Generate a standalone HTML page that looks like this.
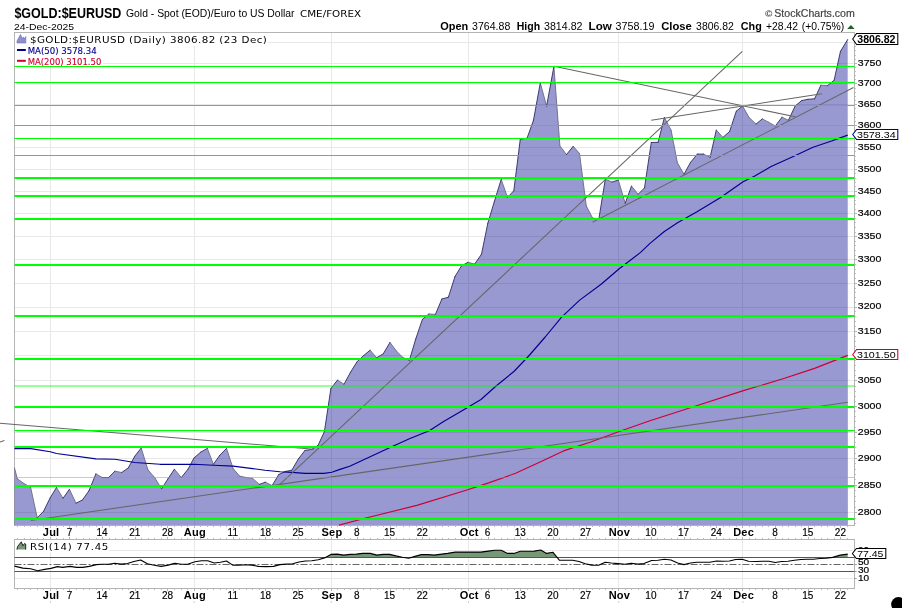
<!DOCTYPE html>
<html lang="en"><head><meta charset="utf-8"><title>$GOLD:$EURUSD - StockCharts</title>
<style>
html,body{margin:0;padding:0;background:#fff;}
body{width:902px;height:608px;overflow:hidden;}
svg{display:block;font-family:"Liberation Sans",Arial,sans-serif;}
.ax{font-size:10px;fill:#000;stroke:#000;stroke-width:0.15px;}
.yl{font-size:9.7px;fill:#000;stroke:#000;stroke-width:0.18px;}
.mo{font-size:11px;font-weight:bold;fill:#000;letter-spacing:0.25px;}
.dv{font-family:"DejaVu Sans","Liberation Sans",sans-serif;}
.dvc{font-family:"DejaVu Sans Condensed","DejaVu Sans","Liberation Sans",sans-serif;}
</style></head><body>
<svg width="902" height="608" viewBox="0 0 902 608">
<rect x="0" y="0" width="902" height="608" fill="#fff"/>
<text x="14.4" y="17.7" textLength="107" lengthAdjust="spacingAndGlyphs" font-size="14.3px" font-weight="bold">$GOLD:$EURUSD</text>
<text x="126" y="16.9" textLength="168.5" lengthAdjust="spacingAndGlyphs" font-size="10.6px">Gold - Spot (EOD)/Euro to US Dollar</text>
<text x="300" y="16.9" textLength="61" lengthAdjust="spacingAndGlyphs" class="dv" font-size="8.6px">CME/FOREX</text>
<text x="14" y="29.8" textLength="60" lengthAdjust="spacingAndGlyphs" font-size="9.6px">24-Dec-2025</text>
<text x="440.2" y="29.8" textLength="28.0" lengthAdjust="spacingAndGlyphs" font-size="11px" font-weight="bold">Open</text>
<text x="472.1" y="29.8" textLength="38.2" lengthAdjust="spacingAndGlyphs" font-size="10.5px">3764.88</text>
<text x="516.7" y="29.8" textLength="23.4" lengthAdjust="spacingAndGlyphs" font-size="11px" font-weight="bold">High</text>
<text x="544" y="29.8" textLength="38.5" lengthAdjust="spacingAndGlyphs" font-size="10.5px">3814.82</text>
<text x="588.6" y="29.8" textLength="23.2" lengthAdjust="spacingAndGlyphs" font-size="11px" font-weight="bold">Low</text>
<text x="615.6" y="29.8" textLength="38.8" lengthAdjust="spacingAndGlyphs" font-size="10.5px">3758.19</text>
<text x="661.2" y="29.8" textLength="30.7" lengthAdjust="spacingAndGlyphs" font-size="11px" font-weight="bold">Close</text>
<text x="696.1" y="29.8" textLength="37.7" lengthAdjust="spacingAndGlyphs" font-size="10.5px">3806.82</text>
<text x="740.8" y="29.8" textLength="21.0" lengthAdjust="spacingAndGlyphs" font-size="11px" font-weight="bold">Chg</text>
<text x="766" y="29.8" textLength="32.1" lengthAdjust="spacingAndGlyphs" font-size="10.5px">+28.42</text>
<text x="801.7" y="29.8" textLength="42.5" lengthAdjust="spacingAndGlyphs" font-size="10.5px">(+0.75%)</text>
<polygon points="847.2,28.9 854.6,28.9 850.9,25" fill="#1f5f1f"/>
<text x="765" y="16.6" textLength="7.4" lengthAdjust="spacingAndGlyphs" font-size="9px" font-weight="bold" fill="#444">©</text>
<text x="774.3" y="17.2" textLength="80.5" lengthAdjust="spacingAndGlyphs" font-size="10.8px" fill="#444" stroke="#444" stroke-width="0.2">StockCharts.com</text>
<rect x="14.5" y="32.5" width="840.0" height="493.0" fill="#fff" stroke="#b4b4b4" stroke-width="1"/>
<g stroke="#e8e8e8" stroke-width="1">
<line x1="15.0" x2="854.0" y1="512.5" y2="512.5"/>
<line x1="15.0" x2="854.0" y1="485.5" y2="485.5"/>
<line x1="15.0" x2="854.0" y1="458.5" y2="458.5"/>
<line x1="15.0" x2="854.0" y1="432.5" y2="432.5"/>
<line x1="15.0" x2="854.0" y1="406.5" y2="406.5"/>
<line x1="15.0" x2="854.0" y1="380.5" y2="380.5"/>
<line x1="15.0" x2="854.0" y1="355.5" y2="355.5"/>
<line x1="15.0" x2="854.0" y1="331.5" y2="331.5"/>
<line x1="15.0" x2="854.0" y1="307.5" y2="307.5"/>
<line x1="15.0" x2="854.0" y1="283.5" y2="283.5"/>
<line x1="15.0" x2="854.0" y1="259.5" y2="259.5"/>
<line x1="15.0" x2="854.0" y1="236.5" y2="236.5"/>
<line x1="15.0" x2="854.0" y1="213.5" y2="213.5"/>
<line x1="15.0" x2="854.0" y1="191.5" y2="191.5"/>
<line x1="15.0" x2="854.0" y1="169.5" y2="169.5"/>
<line x1="15.0" x2="854.0" y1="147.5" y2="147.5"/>
<line x1="15.0" x2="854.0" y1="125.5" y2="125.5"/>
<line x1="15.0" x2="854.0" y1="104.5" y2="104.5"/>
<line x1="15.0" x2="854.0" y1="83.5" y2="83.5"/>
<line x1="15.0" x2="854.0" y1="63.5" y2="63.5"/>
<line x1="15.0" x2="854.0" y1="42.5" y2="42.5"/>
<line x1="50.5" x2="50.5" y1="33.0" y2="525.0"/>
<line x1="194.5" x2="194.5" y1="33.0" y2="525.0"/>
<line x1="331.5" x2="331.5" y1="33.0" y2="525.0"/>
<line x1="468.5" x2="468.5" y1="33.0" y2="525.0"/>
<line x1="618.5" x2="618.5" y1="33.0" y2="525.0"/>
<line x1="742.5" x2="742.5" y1="33.0" y2="525.0"/>
</g>
<rect x="15" y="33" width="253" height="13" fill="#fff"/><rect x="15" y="46" width="83" height="10" fill="#fff"/><rect x="15" y="56" width="88" height="9.8" fill="#fff"/>
<polygon points="14.5,468.0 17.3,478.8 24.0,483.6 30.6,487.2 37.2,517.7 43.5,511.4 50.2,497.8 56.5,487.5 63.0,498.3 69.4,489.3 76.0,503.2 82.4,500.0 89.1,490.6 95.9,473.9 102.3,477.5 108.6,477.5 114.9,471.2 121.7,472.5 128.3,467.9 134.8,456.2 141.2,448.0 147.9,469.8 154.9,477.9 161.6,488.8 168.0,478.8 174.4,469.2 181.3,477.5 188.0,469.2 194.0,458.0 200.6,452.2 207.3,448.4 213.4,464.3 219.8,455.3 226.5,448.4 233.1,468.5 239.6,476.1 246.0,477.5 252.6,478.4 259.3,484.4 265.3,482.2 272.1,485.6 278.8,474.5 285.3,471.5 291.8,470.2 298.4,458.9 304.9,450.5 311.7,449.4 318.1,445.3 324.4,431.6 330.9,388.5 337.5,380.1 344.0,384.2 350.5,372.3 357.0,361.8 363.6,355.6 370.1,350.2 376.6,357.8 383.3,353.8 390.0,342.4 396.4,351.1 402.8,357.4 409.3,360.5 415.8,338.8 422.4,319.4 428.9,314.0 435.4,314.4 441.9,299.0 448.4,297.2 455.0,276.5 461.5,265.9 468.0,262.3 474.6,264.1 481.5,254.2 487.8,223.4 494.3,201.7 501.2,179.4 507.5,197.4 513.8,190.8 520.3,139.1 527.0,138.3 533.4,120.6 540.3,83.0 546.6,106.1 553.9,66.5 559.9,145.9 566.5,154.6 573.2,146.3 579.5,153.5 586.3,206.0 592.6,218.1 598.9,218.7 605.3,179.2 612.0,182.1 618.3,180.1 625.2,203.3 631.5,186.1 638.2,194.2 644.5,187.9 651.3,142.5 658.1,142.3 664.4,117.5 671.1,130.2 677.4,162.8 684.0,174.3 690.5,162.4 697.3,154.1 703.6,154.1 710.1,157.4 716.3,130.1 722.9,137.4 729.6,131.5 736.3,111.2 742.6,106.1 749.1,117.5 756.0,124.1 762.3,118.9 768.8,122.4 775.3,126.0 782.0,117.2 788.4,120.3 795.2,106.0 801.6,100.6 807.9,99.3 814.6,98.8 820.9,85.2 827.4,85.7 834.1,80.3 840.5,51.3 847.7,39.5 847.9,525 14.5,525" fill="rgba(0,0,143,0.4)"/>
<path d="M14.5,468.0L17.3,478.8M17.3,478.8L24.0,483.6M24.0,483.6L30.6,487.2M30.6,487.2L37.2,517.7M56.5,487.5L63.0,498.3M69.4,489.3L76.0,503.2M95.9,473.9L102.3,477.5M114.9,471.2L121.7,472.5M141.2,448.0L147.9,469.8M147.9,469.8L154.9,477.9M154.9,477.9L161.6,488.8M174.4,469.2L181.3,477.5M207.3,448.4L213.4,464.3M226.5,448.4L233.1,468.5M233.1,468.5L239.6,476.1M239.6,476.1L246.0,477.5M246.0,477.5L252.6,478.4M252.6,478.4L259.3,484.4M265.3,482.2L272.1,485.6M337.5,380.1L344.0,384.2M370.1,350.2L376.6,357.8M390.0,342.4L396.4,351.1M396.4,351.1L402.8,357.4M402.8,357.4L409.3,360.5M428.9,314.0L435.4,314.4M468.0,262.3L474.6,264.1M501.2,179.4L507.5,197.4M540.3,83.0L546.6,106.1M553.9,66.5L559.9,145.9M559.9,145.9L566.5,154.6M573.2,146.3L579.5,153.5M579.5,153.5L586.3,206.0M586.3,206.0L592.6,218.1M592.6,218.1L598.9,218.7M605.3,179.2L612.0,182.1M618.3,180.1L625.2,203.3M631.5,186.1L638.2,194.2M664.4,117.5L671.1,130.2M671.1,130.2L677.4,162.8M677.4,162.8L684.0,174.3M703.6,154.1L710.1,157.4M716.3,130.1L722.9,137.4M742.6,106.1L749.1,117.5M749.1,117.5L756.0,124.1M762.3,118.9L768.8,122.4M768.8,122.4L775.3,126.0M782.0,117.2L788.4,120.3M820.9,85.2L827.4,85.7" fill="none" stroke="#6e6e86" stroke-width="0.95" stroke-linecap="round"/>
<path d="M37.2,517.7L43.5,511.4M43.5,511.4L50.2,497.8M50.2,497.8L56.5,487.5M63.0,498.3L69.4,489.3M76.0,503.2L82.4,500.0M82.4,500.0L89.1,490.6M89.1,490.6L95.9,473.9M102.3,477.5L108.6,477.5M108.6,477.5L114.9,471.2M121.7,472.5L128.3,467.9M128.3,467.9L134.8,456.2M134.8,456.2L141.2,448.0M161.6,488.8L168.0,478.8M168.0,478.8L174.4,469.2M181.3,477.5L188.0,469.2M188.0,469.2L194.0,458.0M194.0,458.0L200.6,452.2M200.6,452.2L207.3,448.4M213.4,464.3L219.8,455.3M219.8,455.3L226.5,448.4M259.3,484.4L265.3,482.2M272.1,485.6L278.8,474.5M278.8,474.5L285.3,471.5M285.3,471.5L291.8,470.2M291.8,470.2L298.4,458.9M298.4,458.9L304.9,450.5M304.9,450.5L311.7,449.4M311.7,449.4L318.1,445.3M318.1,445.3L324.4,431.6M324.4,431.6L330.9,388.5M330.9,388.5L337.5,380.1M344.0,384.2L350.5,372.3M350.5,372.3L357.0,361.8M357.0,361.8L363.6,355.6M363.6,355.6L370.1,350.2M376.6,357.8L383.3,353.8M383.3,353.8L390.0,342.4M409.3,360.5L415.8,338.8M415.8,338.8L422.4,319.4M422.4,319.4L428.9,314.0M435.4,314.4L441.9,299.0M441.9,299.0L448.4,297.2M448.4,297.2L455.0,276.5M455.0,276.5L461.5,265.9M461.5,265.9L468.0,262.3M474.6,264.1L481.5,254.2M481.5,254.2L487.8,223.4M487.8,223.4L494.3,201.7M494.3,201.7L501.2,179.4M507.5,197.4L513.8,190.8M513.8,190.8L520.3,139.1M520.3,139.1L527.0,138.3M527.0,138.3L533.4,120.6M533.4,120.6L540.3,83.0M546.6,106.1L553.9,66.5M566.5,154.6L573.2,146.3M598.9,218.7L605.3,179.2M612.0,182.1L618.3,180.1M625.2,203.3L631.5,186.1M638.2,194.2L644.5,187.9M644.5,187.9L651.3,142.5M651.3,142.5L658.1,142.3M658.1,142.3L664.4,117.5M684.0,174.3L690.5,162.4M690.5,162.4L697.3,154.1M697.3,154.1L703.6,154.1M710.1,157.4L716.3,130.1M722.9,137.4L729.6,131.5M729.6,131.5L736.3,111.2M736.3,111.2L742.6,106.1M756.0,124.1L762.3,118.9M775.3,126.0L782.0,117.2M788.4,120.3L795.2,106.0M795.2,106.0L801.6,100.6M801.6,100.6L807.9,99.3M807.9,99.3L814.6,98.8M814.6,98.8L820.9,85.2M827.4,85.7L834.1,80.3M834.1,80.3L840.5,51.3M840.5,51.3L847.7,39.5" fill="none" stroke="#34346c" stroke-width="0.95" stroke-linecap="round"/>
<polyline points="339.0,525.1 368.9,517.3 416.8,505.4 467.7,489.8 488.6,482.9 515.6,473.3 539.5,462.3 563.5,450.9 590.0,442.2 619.9,431.3 649.9,420.8 688.8,408.2 742.6,390.9 784.6,378.3 814.5,368.4 847.7,355.4" fill="none" stroke="#cc0033" stroke-width="1.15" stroke-linejoin="round"/>
<polyline points="14.5,448.6 30.8,448.6 50.2,451.7 56.5,453.5 95.9,458.9 115.0,459.3 134.8,462.5 160.0,464.3 194.0,464.3 213.3,465.2 233.2,466.1 252.6,468.6 265.0,470.2 279.9,471.7 291.9,472.4 304.9,473.4 323.9,473.4 331.8,472.2 340.0,469.4 349.7,466.3 369.6,456.9 389.5,447.8 409.4,438.8 429.3,430.7 443.2,421.8 462.9,410.3 481.0,399.5 495.8,386.3 513.9,371.5 528.7,356.0 545.2,337.0 561.6,317.2 579.7,300.1 601.1,284.3 619.2,268.8 640.6,252.4 650.0,243.4 664.0,231.8 677.9,222.4 696.6,212.0 719.8,198.0 743.1,181.7 754.8,175.9 771.1,166.6 794.4,156.1 813.0,147.2 831.6,141.0 847.7,135.1" fill="none" stroke="#000090" stroke-width="1.15" stroke-linejoin="round"/>
<g stroke="#666" stroke-width="1.05">
<line x1="0" y1="423.2" x2="313.9" y2="449.3"/>
<line x1="0" y1="442.1" x2="4.4" y2="440.5"/>
<line x1="30.8" y1="520.4" x2="847.7" y2="402.3"/>
<line x1="279.9" y1="484.4" x2="742.3" y2="51.4"/>
<line x1="554.0" y1="66.3" x2="795.2" y2="116.8"/>
<line x1="651.2" y1="120.2" x2="821.8" y2="93.7"/>
<line x1="592.6" y1="222.3" x2="853.5" y2="87.5"/>
</g>
<g stroke="#00ff00">
<line x1="14.5" x2="854.5" y1="66.5" y2="66.5" stroke-width="1"/>
<line x1="14.5" x2="854.5" y1="82.5" y2="82.5" stroke-width="1"/>
<line x1="14.5" x2="854.5" y1="105.5" y2="105.5" stroke-width="1"/>
<line x1="14.5" x2="854.5" y1="125.5" y2="125.5" stroke-width="1"/>
<line x1="14.5" x2="854.5" y1="138.5" y2="138.5" stroke-width="1"/>
<line x1="14.5" x2="854.5" y1="155.5" y2="155.5" stroke-width="1"/>
<line x1="14.5" x2="854.5" y1="178.0" y2="178.0" stroke-width="2"/>
<line x1="14.5" x2="854.5" y1="196.0" y2="196.0" stroke-width="2"/>
<line x1="14.5" x2="854.5" y1="219.0" y2="219.0" stroke-width="2"/>
<line x1="14.5" x2="854.5" y1="265.0" y2="265.0" stroke-width="2"/>
<line x1="14.5" x2="854.5" y1="316.0" y2="316.0" stroke-width="2"/>
<line x1="14.5" x2="854.5" y1="359.0" y2="359.0" stroke-width="2"/>
<line x1="14.5" x2="854.5" y1="386.0" y2="386.0" stroke-width="1.6" stroke-opacity="0.55"/>
<line x1="14.5" x2="854.5" y1="407.0" y2="407.0" stroke-width="2"/>
<line x1="14.5" x2="854.5" y1="430.6" y2="430.6" stroke-width="1.3"/>
<line x1="14.5" x2="854.5" y1="447.0" y2="447.0" stroke-width="2"/>
<line x1="14.5" x2="854.5" y1="477.5" y2="477.5" stroke-width="1.0" stroke-opacity="0.5"/>
<line x1="14.5" x2="854.5" y1="486.0" y2="486.0" stroke-width="2"/>
<line x1="14.5" x2="854.5" y1="519.0" y2="519.0" stroke-width="2.2"/>
</g>
<polygon points="17,43 17,41 20.5,34.5 22.3,38.5 23.5,37 24.5,39 25.8,36.5 25.8,43" fill="#8f8fd0" stroke="#6666b8" stroke-width="0.6"/>
<g transform="translate(29.9,43) scale(1.09,1)">
<text x="0" y="0" textLength="217.4" lengthAdjust="spacing" class="dv" font-size="9.5px">$GOLD:$EURUSD (Daily) 3806.82 (23 Dec)</text>
</g>
<line x1="17" x2="25.8" y1="50" y2="50" stroke="#000090" stroke-width="2"/>
<text x="27.7" y="53.8" textLength="69" lengthAdjust="spacingAndGlyphs" class="dvc" font-size="9.5px" fill="#000090" stroke="#000090" stroke-width="0.12">MA(50) 3578.34</text>
<line x1="17" x2="25.8" y1="60.8" y2="60.8" stroke="#cc0033" stroke-width="2"/>
<text x="27.7" y="64.6" textLength="73.6" lengthAdjust="spacingAndGlyphs" class="dvc" font-size="9.5px" fill="#cc0033" stroke="#cc0033" stroke-width="0.12">MA(200) 3101.50</text>
<g stroke="#b4b4b4" stroke-width="1">
<line x1="854.5" x2="855.8" y1="523.5" y2="523.5"/>
<line x1="854.5" x2="855.8" y1="518.5" y2="518.5"/>
<line x1="854.5" x2="857.0" y1="512.5" y2="512.5"/>
<line x1="854.5" x2="855.8" y1="507.5" y2="507.5"/>
<line x1="854.5" x2="855.8" y1="501.5" y2="501.5"/>
<line x1="854.5" x2="855.8" y1="496.5" y2="496.5"/>
<line x1="854.5" x2="855.8" y1="490.5" y2="490.5"/>
<line x1="854.5" x2="857.0" y1="485.5" y2="485.5"/>
<line x1="854.5" x2="855.8" y1="479.5" y2="479.5"/>
<line x1="854.5" x2="855.8" y1="474.5" y2="474.5"/>
<line x1="854.5" x2="855.8" y1="469.5" y2="469.5"/>
<line x1="854.5" x2="855.8" y1="463.5" y2="463.5"/>
<line x1="854.5" x2="857.0" y1="458.5" y2="458.5"/>
<line x1="854.5" x2="855.8" y1="453.5" y2="453.5"/>
<line x1="854.5" x2="855.8" y1="447.5" y2="447.5"/>
<line x1="854.5" x2="855.8" y1="442.5" y2="442.5"/>
<line x1="854.5" x2="855.8" y1="437.5" y2="437.5"/>
<line x1="854.5" x2="857.0" y1="432.5" y2="432.5"/>
<line x1="854.5" x2="855.8" y1="427.5" y2="427.5"/>
<line x1="854.5" x2="855.8" y1="421.5" y2="421.5"/>
<line x1="854.5" x2="855.8" y1="416.5" y2="416.5"/>
<line x1="854.5" x2="855.8" y1="411.5" y2="411.5"/>
<line x1="854.5" x2="857.0" y1="406.5" y2="406.5"/>
<line x1="854.5" x2="855.8" y1="401.5" y2="401.5"/>
<line x1="854.5" x2="855.8" y1="396.5" y2="396.5"/>
<line x1="854.5" x2="855.8" y1="391.5" y2="391.5"/>
<line x1="854.5" x2="855.8" y1="386.5" y2="386.5"/>
<line x1="854.5" x2="857.0" y1="380.5" y2="380.5"/>
<line x1="854.5" x2="855.8" y1="375.5" y2="375.5"/>
<line x1="854.5" x2="855.8" y1="370.5" y2="370.5"/>
<line x1="854.5" x2="855.8" y1="365.5" y2="365.5"/>
<line x1="854.5" x2="855.8" y1="360.5" y2="360.5"/>
<line x1="854.5" x2="857.0" y1="355.5" y2="355.5"/>
<line x1="854.5" x2="855.8" y1="351.5" y2="351.5"/>
<line x1="854.5" x2="855.8" y1="346.5" y2="346.5"/>
<line x1="854.5" x2="855.8" y1="341.5" y2="341.5"/>
<line x1="854.5" x2="855.8" y1="336.5" y2="336.5"/>
<line x1="854.5" x2="857.0" y1="331.5" y2="331.5"/>
<line x1="854.5" x2="855.8" y1="326.5" y2="326.5"/>
<line x1="854.5" x2="855.8" y1="321.5" y2="321.5"/>
<line x1="854.5" x2="855.8" y1="316.5" y2="316.5"/>
<line x1="854.5" x2="855.8" y1="311.5" y2="311.5"/>
<line x1="854.5" x2="857.0" y1="307.5" y2="307.5"/>
<line x1="854.5" x2="855.8" y1="302.5" y2="302.5"/>
<line x1="854.5" x2="855.8" y1="297.5" y2="297.5"/>
<line x1="854.5" x2="855.8" y1="292.5" y2="292.5"/>
<line x1="854.5" x2="855.8" y1="288.5" y2="288.5"/>
<line x1="854.5" x2="857.0" y1="283.5" y2="283.5"/>
<line x1="854.5" x2="855.8" y1="278.5" y2="278.5"/>
<line x1="854.5" x2="855.8" y1="273.5" y2="273.5"/>
<line x1="854.5" x2="855.8" y1="269.5" y2="269.5"/>
<line x1="854.5" x2="855.8" y1="264.5" y2="264.5"/>
<line x1="854.5" x2="857.0" y1="259.5" y2="259.5"/>
<line x1="854.5" x2="855.8" y1="255.5" y2="255.5"/>
<line x1="854.5" x2="855.8" y1="250.5" y2="250.5"/>
<line x1="854.5" x2="855.8" y1="245.5" y2="245.5"/>
<line x1="854.5" x2="855.8" y1="241.5" y2="241.5"/>
<line x1="854.5" x2="857.0" y1="236.5" y2="236.5"/>
<line x1="854.5" x2="855.8" y1="232.5" y2="232.5"/>
<line x1="854.5" x2="855.8" y1="227.5" y2="227.5"/>
<line x1="854.5" x2="855.8" y1="222.5" y2="222.5"/>
<line x1="854.5" x2="855.8" y1="218.5" y2="218.5"/>
<line x1="854.5" x2="857.0" y1="213.5" y2="213.5"/>
<line x1="854.5" x2="855.8" y1="209.5" y2="209.5"/>
<line x1="854.5" x2="855.8" y1="204.5" y2="204.5"/>
<line x1="854.5" x2="855.8" y1="200.5" y2="200.5"/>
<line x1="854.5" x2="855.8" y1="195.5" y2="195.5"/>
<line x1="854.5" x2="857.0" y1="191.5" y2="191.5"/>
<line x1="854.5" x2="855.8" y1="186.5" y2="186.5"/>
<line x1="854.5" x2="855.8" y1="182.5" y2="182.5"/>
<line x1="854.5" x2="855.8" y1="178.5" y2="178.5"/>
<line x1="854.5" x2="855.8" y1="173.5" y2="173.5"/>
<line x1="854.5" x2="857.0" y1="169.5" y2="169.5"/>
<line x1="854.5" x2="855.8" y1="164.5" y2="164.5"/>
<line x1="854.5" x2="855.8" y1="160.5" y2="160.5"/>
<line x1="854.5" x2="855.8" y1="156.5" y2="156.5"/>
<line x1="854.5" x2="855.8" y1="151.5" y2="151.5"/>
<line x1="854.5" x2="857.0" y1="147.5" y2="147.5"/>
<line x1="854.5" x2="855.8" y1="143.5" y2="143.5"/>
<line x1="854.5" x2="855.8" y1="138.5" y2="138.5"/>
<line x1="854.5" x2="855.8" y1="134.5" y2="134.5"/>
<line x1="854.5" x2="855.8" y1="130.5" y2="130.5"/>
<line x1="854.5" x2="857.0" y1="125.5" y2="125.5"/>
<line x1="854.5" x2="855.8" y1="121.5" y2="121.5"/>
<line x1="854.5" x2="855.8" y1="117.5" y2="117.5"/>
<line x1="854.5" x2="855.8" y1="113.5" y2="113.5"/>
<line x1="854.5" x2="855.8" y1="108.5" y2="108.5"/>
<line x1="854.5" x2="857.0" y1="104.5" y2="104.5"/>
<line x1="854.5" x2="855.8" y1="100.5" y2="100.5"/>
<line x1="854.5" x2="855.8" y1="96.5" y2="96.5"/>
<line x1="854.5" x2="855.8" y1="92.5" y2="92.5"/>
<line x1="854.5" x2="855.8" y1="88.5" y2="88.5"/>
<line x1="854.5" x2="857.0" y1="83.5" y2="83.5"/>
<line x1="854.5" x2="855.8" y1="79.5" y2="79.5"/>
<line x1="854.5" x2="855.8" y1="75.5" y2="75.5"/>
<line x1="854.5" x2="855.8" y1="71.5" y2="71.5"/>
<line x1="854.5" x2="855.8" y1="67.5" y2="67.5"/>
<line x1="854.5" x2="857.0" y1="63.5" y2="63.5"/>
<line x1="854.5" x2="855.8" y1="59.5" y2="59.5"/>
<line x1="854.5" x2="855.8" y1="55.5" y2="55.5"/>
<line x1="854.5" x2="855.8" y1="50.5" y2="50.5"/>
<line x1="854.5" x2="855.8" y1="46.5" y2="46.5"/>
<line x1="854.5" x2="857.0" y1="42.5" y2="42.5"/>
<line x1="854.5" x2="855.8" y1="38.5" y2="38.5"/>
<line x1="854.5" x2="855.8" y1="34.5" y2="34.5"/>
</g>
<text x="857.8" y="514.8" textLength="23.5" lengthAdjust="spacingAndGlyphs" class="yl" >2800</text>
<text x="857.8" y="487.6" textLength="23.5" lengthAdjust="spacingAndGlyphs" class="yl" >2850</text>
<text x="857.8" y="460.8" textLength="23.5" lengthAdjust="spacingAndGlyphs" class="yl" >2900</text>
<text x="857.8" y="434.5" textLength="23.5" lengthAdjust="spacingAndGlyphs" class="yl" >2950</text>
<text x="857.8" y="408.7" textLength="23.5" lengthAdjust="spacingAndGlyphs" class="yl" >3000</text>
<text x="857.8" y="383.3" textLength="23.5" lengthAdjust="spacingAndGlyphs" class="yl" >3050</text>
<text x="857.8" y="333.6" textLength="23.5" lengthAdjust="spacingAndGlyphs" class="yl" >3150</text>
<text x="857.8" y="309.4" textLength="23.5" lengthAdjust="spacingAndGlyphs" class="yl" >3200</text>
<text x="857.8" y="285.6" textLength="23.5" lengthAdjust="spacingAndGlyphs" class="yl" >3250</text>
<text x="857.8" y="262.1" textLength="23.5" lengthAdjust="spacingAndGlyphs" class="yl" >3300</text>
<text x="857.8" y="239.0" textLength="23.5" lengthAdjust="spacingAndGlyphs" class="yl" >3350</text>
<text x="857.8" y="216.2" textLength="23.5" lengthAdjust="spacingAndGlyphs" class="yl" >3400</text>
<text x="857.8" y="193.7" textLength="23.5" lengthAdjust="spacingAndGlyphs" class="yl" >3450</text>
<text x="857.8" y="171.6" textLength="23.5" lengthAdjust="spacingAndGlyphs" class="yl" >3500</text>
<text x="857.8" y="149.8" textLength="23.5" lengthAdjust="spacingAndGlyphs" class="yl" >3550</text>
<text x="857.8" y="128.3" textLength="23.5" lengthAdjust="spacingAndGlyphs" class="yl" >3600</text>
<text x="857.8" y="107.1" textLength="23.5" lengthAdjust="spacingAndGlyphs" class="yl" >3650</text>
<text x="857.8" y="86.1" textLength="23.5" lengthAdjust="spacingAndGlyphs" class="yl" >3700</text>
<text x="857.8" y="65.5" textLength="23.5" lengthAdjust="spacingAndGlyphs" class="yl" >3750</text>
<polygon points="852.7,39.0 856.6,33.5 897.8,33.5 897.8,44.5 856.6,44.5" fill="#fff" stroke="#000" stroke-width="1.05"/>
<text x="857.3" y="42.6" textLength="38.2" lengthAdjust="spacingAndGlyphs" font-size="10px" font-weight="bold">3806.82</text>
<polygon points="852.7,134.5 856.6,129.5 897.8,129.5 897.8,139.5 856.6,139.5" fill="#fff" stroke="#000090" stroke-width="1.05"/>
<text x="857" y="138.0" textLength="38.6" lengthAdjust="spacingAndGlyphs" font-size="9.8px">3578.34</text>
<polygon points="852.7,354.5 856.6,349.5 897.8,349.5 897.8,359.5 856.6,359.5" fill="#fff" stroke="#cc0033" stroke-width="1.05"/>
<text x="857" y="358.0" textLength="38.6" lengthAdjust="spacingAndGlyphs" font-size="9.8px">3101.50</text>
<g stroke="#b4b4b4" stroke-width="1">
<line x1="17.5" x2="17.5" y1="525.5" y2="526.9"/>
<line x1="17.5" x2="17.5" y1="538.1" y2="539.5"/>
<line x1="24.5" x2="24.5" y1="525.5" y2="526.9"/>
<line x1="24.5" x2="24.5" y1="538.1" y2="539.5"/>
<line x1="30.5" x2="30.5" y1="525.5" y2="526.9"/>
<line x1="30.5" x2="30.5" y1="538.1" y2="539.5"/>
<line x1="37.5" x2="37.5" y1="525.5" y2="526.9"/>
<line x1="37.5" x2="37.5" y1="538.1" y2="539.5"/>
<line x1="43.5" x2="43.5" y1="525.5" y2="526.9"/>
<line x1="43.5" x2="43.5" y1="538.1" y2="539.5"/>
<line x1="50.5" x2="50.5" y1="525.5" y2="528.1"/>
<line x1="50.5" x2="50.5" y1="536.9" y2="539.5"/>
<line x1="56.5" x2="56.5" y1="525.5" y2="526.9"/>
<line x1="56.5" x2="56.5" y1="538.1" y2="539.5"/>
<line x1="63.5" x2="63.5" y1="525.5" y2="526.9"/>
<line x1="63.5" x2="63.5" y1="538.1" y2="539.5"/>
<line x1="69.5" x2="69.5" y1="525.5" y2="528.1"/>
<line x1="69.5" x2="69.5" y1="536.9" y2="539.5"/>
<line x1="76.5" x2="76.5" y1="525.5" y2="526.9"/>
<line x1="76.5" x2="76.5" y1="538.1" y2="539.5"/>
<line x1="83.5" x2="83.5" y1="525.5" y2="526.9"/>
<line x1="83.5" x2="83.5" y1="538.1" y2="539.5"/>
<line x1="89.5" x2="89.5" y1="525.5" y2="526.9"/>
<line x1="89.5" x2="89.5" y1="538.1" y2="539.5"/>
<line x1="96.5" x2="96.5" y1="525.5" y2="526.9"/>
<line x1="96.5" x2="96.5" y1="538.1" y2="539.5"/>
<line x1="102.5" x2="102.5" y1="525.5" y2="528.1"/>
<line x1="102.5" x2="102.5" y1="536.9" y2="539.5"/>
<line x1="109.5" x2="109.5" y1="525.5" y2="526.9"/>
<line x1="109.5" x2="109.5" y1="538.1" y2="539.5"/>
<line x1="115.5" x2="115.5" y1="525.5" y2="526.9"/>
<line x1="115.5" x2="115.5" y1="538.1" y2="539.5"/>
<line x1="122.5" x2="122.5" y1="525.5" y2="526.9"/>
<line x1="122.5" x2="122.5" y1="538.1" y2="539.5"/>
<line x1="128.5" x2="128.5" y1="525.5" y2="526.9"/>
<line x1="128.5" x2="128.5" y1="538.1" y2="539.5"/>
<line x1="135.5" x2="135.5" y1="525.5" y2="528.1"/>
<line x1="135.5" x2="135.5" y1="536.9" y2="539.5"/>
<line x1="141.5" x2="141.5" y1="525.5" y2="526.9"/>
<line x1="141.5" x2="141.5" y1="538.1" y2="539.5"/>
<line x1="148.5" x2="148.5" y1="525.5" y2="526.9"/>
<line x1="148.5" x2="148.5" y1="538.1" y2="539.5"/>
<line x1="154.5" x2="154.5" y1="525.5" y2="526.9"/>
<line x1="154.5" x2="154.5" y1="538.1" y2="539.5"/>
<line x1="161.5" x2="161.5" y1="525.5" y2="526.9"/>
<line x1="161.5" x2="161.5" y1="538.1" y2="539.5"/>
<line x1="167.5" x2="167.5" y1="525.5" y2="528.1"/>
<line x1="167.5" x2="167.5" y1="536.9" y2="539.5"/>
<line x1="174.5" x2="174.5" y1="525.5" y2="526.9"/>
<line x1="174.5" x2="174.5" y1="538.1" y2="539.5"/>
<line x1="181.5" x2="181.5" y1="525.5" y2="526.9"/>
<line x1="181.5" x2="181.5" y1="538.1" y2="539.5"/>
<line x1="187.5" x2="187.5" y1="525.5" y2="526.9"/>
<line x1="187.5" x2="187.5" y1="538.1" y2="539.5"/>
<line x1="194.5" x2="194.5" y1="525.5" y2="528.1"/>
<line x1="194.5" x2="194.5" y1="536.9" y2="539.5"/>
<line x1="200.5" x2="200.5" y1="525.5" y2="526.9"/>
<line x1="200.5" x2="200.5" y1="538.1" y2="539.5"/>
<line x1="207.5" x2="207.5" y1="525.5" y2="526.9"/>
<line x1="207.5" x2="207.5" y1="538.1" y2="539.5"/>
<line x1="213.5" x2="213.5" y1="525.5" y2="526.9"/>
<line x1="213.5" x2="213.5" y1="538.1" y2="539.5"/>
<line x1="220.5" x2="220.5" y1="525.5" y2="526.9"/>
<line x1="220.5" x2="220.5" y1="538.1" y2="539.5"/>
<line x1="226.5" x2="226.5" y1="525.5" y2="526.9"/>
<line x1="226.5" x2="226.5" y1="538.1" y2="539.5"/>
<line x1="233.5" x2="233.5" y1="525.5" y2="528.1"/>
<line x1="233.5" x2="233.5" y1="536.9" y2="539.5"/>
<line x1="239.5" x2="239.5" y1="525.5" y2="526.9"/>
<line x1="239.5" x2="239.5" y1="538.1" y2="539.5"/>
<line x1="246.5" x2="246.5" y1="525.5" y2="526.9"/>
<line x1="246.5" x2="246.5" y1="538.1" y2="539.5"/>
<line x1="252.5" x2="252.5" y1="525.5" y2="526.9"/>
<line x1="252.5" x2="252.5" y1="538.1" y2="539.5"/>
<line x1="259.5" x2="259.5" y1="525.5" y2="526.9"/>
<line x1="259.5" x2="259.5" y1="538.1" y2="539.5"/>
<line x1="265.5" x2="265.5" y1="525.5" y2="528.1"/>
<line x1="265.5" x2="265.5" y1="536.9" y2="539.5"/>
<line x1="272.5" x2="272.5" y1="525.5" y2="526.9"/>
<line x1="272.5" x2="272.5" y1="538.1" y2="539.5"/>
<line x1="279.5" x2="279.5" y1="525.5" y2="526.9"/>
<line x1="279.5" x2="279.5" y1="538.1" y2="539.5"/>
<line x1="285.5" x2="285.5" y1="525.5" y2="526.9"/>
<line x1="285.5" x2="285.5" y1="538.1" y2="539.5"/>
<line x1="292.5" x2="292.5" y1="525.5" y2="526.9"/>
<line x1="292.5" x2="292.5" y1="538.1" y2="539.5"/>
<line x1="298.5" x2="298.5" y1="525.5" y2="528.1"/>
<line x1="298.5" x2="298.5" y1="536.9" y2="539.5"/>
<line x1="305.5" x2="305.5" y1="525.5" y2="526.9"/>
<line x1="305.5" x2="305.5" y1="538.1" y2="539.5"/>
<line x1="311.5" x2="311.5" y1="525.5" y2="526.9"/>
<line x1="311.5" x2="311.5" y1="538.1" y2="539.5"/>
<line x1="318.5" x2="318.5" y1="525.5" y2="526.9"/>
<line x1="318.5" x2="318.5" y1="538.1" y2="539.5"/>
<line x1="324.5" x2="324.5" y1="525.5" y2="526.9"/>
<line x1="324.5" x2="324.5" y1="538.1" y2="539.5"/>
<line x1="331.5" x2="331.5" y1="525.5" y2="528.1"/>
<line x1="331.5" x2="331.5" y1="536.9" y2="539.5"/>
<line x1="337.5" x2="337.5" y1="525.5" y2="526.9"/>
<line x1="337.5" x2="337.5" y1="538.1" y2="539.5"/>
<line x1="344.5" x2="344.5" y1="525.5" y2="526.9"/>
<line x1="344.5" x2="344.5" y1="538.1" y2="539.5"/>
<line x1="350.5" x2="350.5" y1="525.5" y2="526.9"/>
<line x1="350.5" x2="350.5" y1="538.1" y2="539.5"/>
<line x1="357.5" x2="357.5" y1="525.5" y2="528.1"/>
<line x1="357.5" x2="357.5" y1="536.9" y2="539.5"/>
<line x1="363.5" x2="363.5" y1="525.5" y2="526.9"/>
<line x1="363.5" x2="363.5" y1="538.1" y2="539.5"/>
<line x1="370.5" x2="370.5" y1="525.5" y2="526.9"/>
<line x1="370.5" x2="370.5" y1="538.1" y2="539.5"/>
<line x1="377.5" x2="377.5" y1="525.5" y2="526.9"/>
<line x1="377.5" x2="377.5" y1="538.1" y2="539.5"/>
<line x1="383.5" x2="383.5" y1="525.5" y2="526.9"/>
<line x1="383.5" x2="383.5" y1="538.1" y2="539.5"/>
<line x1="390.5" x2="390.5" y1="525.5" y2="528.1"/>
<line x1="390.5" x2="390.5" y1="536.9" y2="539.5"/>
<line x1="396.5" x2="396.5" y1="525.5" y2="526.9"/>
<line x1="396.5" x2="396.5" y1="538.1" y2="539.5"/>
<line x1="403.5" x2="403.5" y1="525.5" y2="526.9"/>
<line x1="403.5" x2="403.5" y1="538.1" y2="539.5"/>
<line x1="409.5" x2="409.5" y1="525.5" y2="526.9"/>
<line x1="409.5" x2="409.5" y1="538.1" y2="539.5"/>
<line x1="416.5" x2="416.5" y1="525.5" y2="526.9"/>
<line x1="416.5" x2="416.5" y1="538.1" y2="539.5"/>
<line x1="422.5" x2="422.5" y1="525.5" y2="528.1"/>
<line x1="422.5" x2="422.5" y1="536.9" y2="539.5"/>
<line x1="429.5" x2="429.5" y1="525.5" y2="526.9"/>
<line x1="429.5" x2="429.5" y1="538.1" y2="539.5"/>
<line x1="435.5" x2="435.5" y1="525.5" y2="526.9"/>
<line x1="435.5" x2="435.5" y1="538.1" y2="539.5"/>
<line x1="442.5" x2="442.5" y1="525.5" y2="526.9"/>
<line x1="442.5" x2="442.5" y1="538.1" y2="539.5"/>
<line x1="448.5" x2="448.5" y1="525.5" y2="526.9"/>
<line x1="448.5" x2="448.5" y1="538.1" y2="539.5"/>
<line x1="455.5" x2="455.5" y1="525.5" y2="526.9"/>
<line x1="455.5" x2="455.5" y1="538.1" y2="539.5"/>
<line x1="461.5" x2="461.5" y1="525.5" y2="526.9"/>
<line x1="461.5" x2="461.5" y1="538.1" y2="539.5"/>
<line x1="468.5" x2="468.5" y1="525.5" y2="528.1"/>
<line x1="468.5" x2="468.5" y1="536.9" y2="539.5"/>
<line x1="475.5" x2="475.5" y1="525.5" y2="526.9"/>
<line x1="475.5" x2="475.5" y1="538.1" y2="539.5"/>
<line x1="481.5" x2="481.5" y1="525.5" y2="526.9"/>
<line x1="481.5" x2="481.5" y1="538.1" y2="539.5"/>
<line x1="488.5" x2="488.5" y1="525.5" y2="528.1"/>
<line x1="488.5" x2="488.5" y1="536.9" y2="539.5"/>
<line x1="494.5" x2="494.5" y1="525.5" y2="526.9"/>
<line x1="494.5" x2="494.5" y1="538.1" y2="539.5"/>
<line x1="501.5" x2="501.5" y1="525.5" y2="526.9"/>
<line x1="501.5" x2="501.5" y1="538.1" y2="539.5"/>
<line x1="507.5" x2="507.5" y1="525.5" y2="526.9"/>
<line x1="507.5" x2="507.5" y1="538.1" y2="539.5"/>
<line x1="514.5" x2="514.5" y1="525.5" y2="526.9"/>
<line x1="514.5" x2="514.5" y1="538.1" y2="539.5"/>
<line x1="520.5" x2="520.5" y1="525.5" y2="528.1"/>
<line x1="520.5" x2="520.5" y1="536.9" y2="539.5"/>
<line x1="527.5" x2="527.5" y1="525.5" y2="526.9"/>
<line x1="527.5" x2="527.5" y1="538.1" y2="539.5"/>
<line x1="533.5" x2="533.5" y1="525.5" y2="526.9"/>
<line x1="533.5" x2="533.5" y1="538.1" y2="539.5"/>
<line x1="540.5" x2="540.5" y1="525.5" y2="526.9"/>
<line x1="540.5" x2="540.5" y1="538.1" y2="539.5"/>
<line x1="546.5" x2="546.5" y1="525.5" y2="526.9"/>
<line x1="546.5" x2="546.5" y1="538.1" y2="539.5"/>
<line x1="553.5" x2="553.5" y1="525.5" y2="528.1"/>
<line x1="553.5" x2="553.5" y1="536.9" y2="539.5"/>
<line x1="559.5" x2="559.5" y1="525.5" y2="526.9"/>
<line x1="559.5" x2="559.5" y1="538.1" y2="539.5"/>
<line x1="566.5" x2="566.5" y1="525.5" y2="526.9"/>
<line x1="566.5" x2="566.5" y1="538.1" y2="539.5"/>
<line x1="573.5" x2="573.5" y1="525.5" y2="526.9"/>
<line x1="573.5" x2="573.5" y1="538.1" y2="539.5"/>
<line x1="579.5" x2="579.5" y1="525.5" y2="526.9"/>
<line x1="579.5" x2="579.5" y1="538.1" y2="539.5"/>
<line x1="586.5" x2="586.5" y1="525.5" y2="528.1"/>
<line x1="586.5" x2="586.5" y1="536.9" y2="539.5"/>
<line x1="592.5" x2="592.5" y1="525.5" y2="526.9"/>
<line x1="592.5" x2="592.5" y1="538.1" y2="539.5"/>
<line x1="599.5" x2="599.5" y1="525.5" y2="526.9"/>
<line x1="599.5" x2="599.5" y1="538.1" y2="539.5"/>
<line x1="605.5" x2="605.5" y1="525.5" y2="526.9"/>
<line x1="605.5" x2="605.5" y1="538.1" y2="539.5"/>
<line x1="612.5" x2="612.5" y1="525.5" y2="526.9"/>
<line x1="612.5" x2="612.5" y1="538.1" y2="539.5"/>
<line x1="618.5" x2="618.5" y1="525.5" y2="528.1"/>
<line x1="618.5" x2="618.5" y1="536.9" y2="539.5"/>
<line x1="625.5" x2="625.5" y1="525.5" y2="526.9"/>
<line x1="625.5" x2="625.5" y1="538.1" y2="539.5"/>
<line x1="631.5" x2="631.5" y1="525.5" y2="526.9"/>
<line x1="631.5" x2="631.5" y1="538.1" y2="539.5"/>
<line x1="638.5" x2="638.5" y1="525.5" y2="526.9"/>
<line x1="638.5" x2="638.5" y1="538.1" y2="539.5"/>
<line x1="644.5" x2="644.5" y1="525.5" y2="526.9"/>
<line x1="644.5" x2="644.5" y1="538.1" y2="539.5"/>
<line x1="651.5" x2="651.5" y1="525.5" y2="528.1"/>
<line x1="651.5" x2="651.5" y1="536.9" y2="539.5"/>
<line x1="657.5" x2="657.5" y1="525.5" y2="526.9"/>
<line x1="657.5" x2="657.5" y1="538.1" y2="539.5"/>
<line x1="664.5" x2="664.5" y1="525.5" y2="526.9"/>
<line x1="664.5" x2="664.5" y1="538.1" y2="539.5"/>
<line x1="671.5" x2="671.5" y1="525.5" y2="526.9"/>
<line x1="671.5" x2="671.5" y1="538.1" y2="539.5"/>
<line x1="677.5" x2="677.5" y1="525.5" y2="526.9"/>
<line x1="677.5" x2="677.5" y1="538.1" y2="539.5"/>
<line x1="684.5" x2="684.5" y1="525.5" y2="528.1"/>
<line x1="684.5" x2="684.5" y1="536.9" y2="539.5"/>
<line x1="690.5" x2="690.5" y1="525.5" y2="526.9"/>
<line x1="690.5" x2="690.5" y1="538.1" y2="539.5"/>
<line x1="697.5" x2="697.5" y1="525.5" y2="526.9"/>
<line x1="697.5" x2="697.5" y1="538.1" y2="539.5"/>
<line x1="703.5" x2="703.5" y1="525.5" y2="526.9"/>
<line x1="703.5" x2="703.5" y1="538.1" y2="539.5"/>
<line x1="710.5" x2="710.5" y1="525.5" y2="526.9"/>
<line x1="710.5" x2="710.5" y1="538.1" y2="539.5"/>
<line x1="716.5" x2="716.5" y1="525.5" y2="528.1"/>
<line x1="716.5" x2="716.5" y1="536.9" y2="539.5"/>
<line x1="723.5" x2="723.5" y1="525.5" y2="526.9"/>
<line x1="723.5" x2="723.5" y1="538.1" y2="539.5"/>
<line x1="729.5" x2="729.5" y1="525.5" y2="526.9"/>
<line x1="729.5" x2="729.5" y1="538.1" y2="539.5"/>
<line x1="736.5" x2="736.5" y1="525.5" y2="526.9"/>
<line x1="736.5" x2="736.5" y1="538.1" y2="539.5"/>
<line x1="742.5" x2="742.5" y1="525.5" y2="528.1"/>
<line x1="742.5" x2="742.5" y1="536.9" y2="539.5"/>
<line x1="749.5" x2="749.5" y1="525.5" y2="526.9"/>
<line x1="749.5" x2="749.5" y1="538.1" y2="539.5"/>
<line x1="755.5" x2="755.5" y1="525.5" y2="526.9"/>
<line x1="755.5" x2="755.5" y1="538.1" y2="539.5"/>
<line x1="762.5" x2="762.5" y1="525.5" y2="526.9"/>
<line x1="762.5" x2="762.5" y1="538.1" y2="539.5"/>
<line x1="768.5" x2="768.5" y1="525.5" y2="526.9"/>
<line x1="768.5" x2="768.5" y1="538.1" y2="539.5"/>
<line x1="775.5" x2="775.5" y1="525.5" y2="528.1"/>
<line x1="775.5" x2="775.5" y1="536.9" y2="539.5"/>
<line x1="782.5" x2="782.5" y1="525.5" y2="526.9"/>
<line x1="782.5" x2="782.5" y1="538.1" y2="539.5"/>
<line x1="788.5" x2="788.5" y1="525.5" y2="526.9"/>
<line x1="788.5" x2="788.5" y1="538.1" y2="539.5"/>
<line x1="795.5" x2="795.5" y1="525.5" y2="526.9"/>
<line x1="795.5" x2="795.5" y1="538.1" y2="539.5"/>
<line x1="801.5" x2="801.5" y1="525.5" y2="526.9"/>
<line x1="801.5" x2="801.5" y1="538.1" y2="539.5"/>
<line x1="808.5" x2="808.5" y1="525.5" y2="528.1"/>
<line x1="808.5" x2="808.5" y1="536.9" y2="539.5"/>
<line x1="814.5" x2="814.5" y1="525.5" y2="526.9"/>
<line x1="814.5" x2="814.5" y1="538.1" y2="539.5"/>
<line x1="821.5" x2="821.5" y1="525.5" y2="526.9"/>
<line x1="821.5" x2="821.5" y1="538.1" y2="539.5"/>
<line x1="827.5" x2="827.5" y1="525.5" y2="526.9"/>
<line x1="827.5" x2="827.5" y1="538.1" y2="539.5"/>
<line x1="834.5" x2="834.5" y1="525.5" y2="526.9"/>
<line x1="834.5" x2="834.5" y1="538.1" y2="539.5"/>
<line x1="840.5" x2="840.5" y1="525.5" y2="528.1"/>
<line x1="840.5" x2="840.5" y1="536.9" y2="539.5"/>
<line x1="847.5" x2="847.5" y1="525.5" y2="526.9"/>
<line x1="847.5" x2="847.5" y1="538.1" y2="539.5"/>
</g>
<text x="51.1" y="536" text-anchor="middle" class="mo" >Jul</text>
<text x="194.8" y="536" text-anchor="middle" class="mo" >Aug</text>
<text x="332.0" y="536" text-anchor="middle" class="mo" >Sep</text>
<text x="469.2" y="536" text-anchor="middle" class="mo" >Oct</text>
<text x="619.4" y="536" text-anchor="middle" class="mo" >Nov</text>
<text x="743.6" y="536" text-anchor="middle" class="mo" >Dec</text>
<text x="69.5" y="536" text-anchor="middle" class="ax" >7</text>
<text x="102.1" y="536" text-anchor="middle" class="ax" >14</text>
<text x="134.8" y="536" text-anchor="middle" class="ax" >21</text>
<text x="167.5" y="536" text-anchor="middle" class="ax" >28</text>
<text x="232.8" y="536" text-anchor="middle" class="ax" >11</text>
<text x="265.5" y="536" text-anchor="middle" class="ax" >18</text>
<text x="298.1" y="536" text-anchor="middle" class="ax" >25</text>
<text x="356.9" y="536" text-anchor="middle" class="ax" >8</text>
<text x="389.6" y="536" text-anchor="middle" class="ax" >15</text>
<text x="422.2" y="536" text-anchor="middle" class="ax" >22</text>
<text x="487.6" y="536" text-anchor="middle" class="ax" >6</text>
<text x="520.2" y="536" text-anchor="middle" class="ax" >13</text>
<text x="552.9" y="536" text-anchor="middle" class="ax" >20</text>
<text x="585.6" y="536" text-anchor="middle" class="ax" >27</text>
<text x="650.9" y="536" text-anchor="middle" class="ax" >10</text>
<text x="683.6" y="536" text-anchor="middle" class="ax" >17</text>
<text x="716.2" y="536" text-anchor="middle" class="ax" >24</text>
<text x="775.0" y="536" text-anchor="middle" class="ax" >8</text>
<text x="807.7" y="536" text-anchor="middle" class="ax" >15</text>
<text x="840.4" y="536" text-anchor="middle" class="ax" >22</text>
<rect x="14.5" y="539.5" width="840.0" height="49.0" fill="#fff" stroke="#b4b4b4" stroke-width="1"/>
<g stroke="#e8e8e8" stroke-width="1">
<line x1="15.0" x2="854.0" y1="578.5" y2="578.5"/>
<line x1="15.0" x2="854.0" y1="550.5" y2="550.5"/>
<line x1="50.5" x2="50.5" y1="540.0" y2="588.0"/>
<line x1="194.5" x2="194.5" y1="540.0" y2="588.0"/>
<line x1="331.5" x2="331.5" y1="540.0" y2="588.0"/>
<line x1="468.5" x2="468.5" y1="540.0" y2="588.0"/>
<line x1="618.5" x2="618.5" y1="540.0" y2="588.0"/>
<line x1="742.5" x2="742.5" y1="540.0" y2="588.0"/>
</g>
<clipPath id="c70"><rect x="14.5" y="539.5" width="840.0" height="18.0"/></clipPath>
<polygon clip-path="url(#c70)" points="14.5,566.1 22.9,568.1 30.6,568.7 37.7,570.7 44.6,569.4 51.0,568.4 57.4,566.6 62.5,567.4 70.1,566.4 76.5,567.4 82.9,567.4 89.2,566.4 96.4,564.6 102.0,564.3 108.4,564.3 114.7,563.3 121.1,564.1 127.5,563.6 133.9,561.5 140.7,560.0 147.4,563.8 154.3,565.3 161.1,566.4 168.3,565.1 174.7,563.3 181.5,564.3 188.2,564.1 195.0,561.8 201.4,560.8 207.8,560.8 214.2,563.0 220.5,562.3 226.4,561.0 232.7,565.1 239.1,565.3 245.5,564.8 251.9,565.1 258.2,566.4 265.9,566.6 273.5,566.4 279.9,564.6 286.3,564.1 292.7,563.8 299.0,562.0 305.4,561.0 311.8,560.8 318.2,559.7 324.5,557.9 330.9,554.4 337.3,554.1 343.7,555.1 350.0,554.4 356.4,554.1 362.8,553.4 370.4,553.4 376.8,555.1 383.2,554.4 389.6,554.4 395.9,555.9 402.3,557.2 408.7,558.2 415.0,556.4 421.4,554.6 427.8,554.6 434.2,555.1 441.8,554.1 447.6,553.4 455.3,552.1 468.0,552.1 480.8,552.1 488.4,551.1 494.8,550.3 501.2,550.3 507.6,553.4 513.9,553.4 520.3,551.3 528.0,551.3 534.3,551.1 540.7,550.0 546.6,553.4 553.0,552.3 559.3,560.2 566.2,560.2 572.6,560.2 579.0,561.5 585.3,563.8 591.7,565.1 598.6,565.3 605.2,562.3 611.3,563.0 618.0,563.6 624.9,564.3 631.2,563.3 637.6,564.1 644.0,563.6 651.6,560.5 658.0,560.2 664.4,559.2 671.0,560.0 677.6,563.0 684.0,564.6 690.4,563.0 696.7,562.3 703.1,562.3 709.7,562.3 716.6,561.0 723.0,561.3 729.4,561.0 735.7,559.5 742.1,559.2 748.5,561.3 756.1,561.5 762.5,561.3 768.9,561.3 775.3,562.5 781.6,561.5 788.0,561.3 794.4,560.2 800.8,559.5 807.1,559.2 813.5,559.2 819.9,558.5 826.3,558.2 832.6,557.4 840.3,555.1 847.7,554.1 847.7,557.5 14.5,557.5" fill="#769876"/>
<line x1="14.5" x2="854.5" y1="557.5" y2="557.5" stroke="#555" stroke-width="1"/>
<line x1="14.5" x2="854.5" y1="571.5" y2="571.5" stroke="#555" stroke-width="1"/>
<line x1="14.5" x2="854.5" y1="564.5" y2="564.5" stroke="#666" stroke-width="1" stroke-dasharray="7,2,2,2"/>
<polyline points="14.5,566.1 22.9,568.1 30.6,568.7 37.7,570.7 44.6,569.4 51.0,568.4 57.4,566.6 62.5,567.4 70.1,566.4 76.5,567.4 82.9,567.4 89.2,566.4 96.4,564.6 102.0,564.3 108.4,564.3 114.7,563.3 121.1,564.1 127.5,563.6 133.9,561.5 140.7,560.0 147.4,563.8 154.3,565.3 161.1,566.4 168.3,565.1 174.7,563.3 181.5,564.3 188.2,564.1 195.0,561.8 201.4,560.8 207.8,560.8 214.2,563.0 220.5,562.3 226.4,561.0 232.7,565.1 239.1,565.3 245.5,564.8 251.9,565.1 258.2,566.4 265.9,566.6 273.5,566.4 279.9,564.6 286.3,564.1 292.7,563.8 299.0,562.0 305.4,561.0 311.8,560.8 318.2,559.7 324.5,557.9 330.9,554.4 337.3,554.1 343.7,555.1 350.0,554.4 356.4,554.1 362.8,553.4 370.4,553.4 376.8,555.1 383.2,554.4 389.6,554.4 395.9,555.9 402.3,557.2 408.7,558.2 415.0,556.4 421.4,554.6 427.8,554.6 434.2,555.1 441.8,554.1 447.6,553.4 455.3,552.1 468.0,552.1 480.8,552.1 488.4,551.1 494.8,550.3 501.2,550.3 507.6,553.4 513.9,553.4 520.3,551.3 528.0,551.3 534.3,551.1 540.7,550.0 546.6,553.4 553.0,552.3 559.3,560.2 566.2,560.2 572.6,560.2 579.0,561.5 585.3,563.8 591.7,565.1 598.6,565.3 605.2,562.3 611.3,563.0 618.0,563.6 624.9,564.3 631.2,563.3 637.6,564.1 644.0,563.6 651.6,560.5 658.0,560.2 664.4,559.2 671.0,560.0 677.6,563.0 684.0,564.6 690.4,563.0 696.7,562.3 703.1,562.3 709.7,562.3 716.6,561.0 723.0,561.3 729.4,561.0 735.7,559.5 742.1,559.2 748.5,561.3 756.1,561.5 762.5,561.3 768.9,561.3 775.3,562.5 781.6,561.5 788.0,561.3 794.4,560.2 800.8,559.5 807.1,559.2 813.5,559.2 819.9,558.5 826.3,558.2 832.6,557.4 840.3,555.1 847.7,554.1" fill="none" stroke="#000" stroke-width="1.1" stroke-linejoin="round"/>
<rect x="15" y="540" width="94" height="12" fill="#fff"/>
<polygon points="16.9,549.6 17.6,546.5 21.3,541.8 22.9,545.8 24.6,543.4 25.7,544.2 25.7,549.6" fill="#769876"/><polyline points="16.9,549.6 17.6,546.5 21.3,541.8 22.9,545.8 24.6,543.4 25.7,544.2 25.7,549.6" fill="none" stroke="#111" stroke-width="0.9"/>
<g transform="translate(30,550.2) scale(1.09,1)">
<text x="0" y="0" textLength="71.9" lengthAdjust="spacing" class="dv" font-size="9.4px">RSI(14) 77.45</text>
</g>
<text x="858" y="552.6" textLength="11.2" lengthAdjust="spacingAndGlyphs" class="yl" >90</text>
<text x="858" y="565.2" textLength="11.2" lengthAdjust="spacingAndGlyphs" class="yl" >50</text>
<text x="858" y="572.6" textLength="11.2" lengthAdjust="spacingAndGlyphs" class="yl" >30</text>
<text x="858" y="580.5" textLength="11.2" lengthAdjust="spacingAndGlyphs" class="yl" >10</text>
<line x1="854.5" x2="856.7" y1="550.5" y2="550.5" stroke="#999" stroke-width="1"/>
<line x1="854.5" x2="856.7" y1="564.5" y2="564.5" stroke="#999" stroke-width="1"/>
<line x1="854.5" x2="856.7" y1="571.5" y2="571.5" stroke="#999" stroke-width="1"/>
<line x1="854.5" x2="856.7" y1="578.5" y2="578.5" stroke="#999" stroke-width="1"/>
<polygon points="852.4,553.5 856.4,548.5 885.8,548.5 885.8,558.5 856.4,558.5" fill="#fff" stroke="#000" stroke-width="1.05"/>
<text x="857.2" y="557.1" textLength="26.2" lengthAdjust="spacingAndGlyphs" font-size="9.8px">77.45</text>
<g stroke="#b4b4b4" stroke-width="1">
<line x1="17.5" x2="17.5" y1="588.5" y2="589.9"/>
<line x1="24.5" x2="24.5" y1="588.5" y2="589.9"/>
<line x1="30.5" x2="30.5" y1="588.5" y2="589.9"/>
<line x1="37.5" x2="37.5" y1="588.5" y2="589.9"/>
<line x1="43.5" x2="43.5" y1="588.5" y2="589.9"/>
<line x1="50.5" x2="50.5" y1="588.5" y2="591.1"/>
<line x1="56.5" x2="56.5" y1="588.5" y2="589.9"/>
<line x1="63.5" x2="63.5" y1="588.5" y2="589.9"/>
<line x1="69.5" x2="69.5" y1="588.5" y2="591.1"/>
<line x1="76.5" x2="76.5" y1="588.5" y2="589.9"/>
<line x1="83.5" x2="83.5" y1="588.5" y2="589.9"/>
<line x1="89.5" x2="89.5" y1="588.5" y2="589.9"/>
<line x1="96.5" x2="96.5" y1="588.5" y2="589.9"/>
<line x1="102.5" x2="102.5" y1="588.5" y2="591.1"/>
<line x1="109.5" x2="109.5" y1="588.5" y2="589.9"/>
<line x1="115.5" x2="115.5" y1="588.5" y2="589.9"/>
<line x1="122.5" x2="122.5" y1="588.5" y2="589.9"/>
<line x1="128.5" x2="128.5" y1="588.5" y2="589.9"/>
<line x1="135.5" x2="135.5" y1="588.5" y2="591.1"/>
<line x1="141.5" x2="141.5" y1="588.5" y2="589.9"/>
<line x1="148.5" x2="148.5" y1="588.5" y2="589.9"/>
<line x1="154.5" x2="154.5" y1="588.5" y2="589.9"/>
<line x1="161.5" x2="161.5" y1="588.5" y2="589.9"/>
<line x1="167.5" x2="167.5" y1="588.5" y2="591.1"/>
<line x1="174.5" x2="174.5" y1="588.5" y2="589.9"/>
<line x1="181.5" x2="181.5" y1="588.5" y2="589.9"/>
<line x1="187.5" x2="187.5" y1="588.5" y2="589.9"/>
<line x1="194.5" x2="194.5" y1="588.5" y2="591.1"/>
<line x1="200.5" x2="200.5" y1="588.5" y2="589.9"/>
<line x1="207.5" x2="207.5" y1="588.5" y2="589.9"/>
<line x1="213.5" x2="213.5" y1="588.5" y2="589.9"/>
<line x1="220.5" x2="220.5" y1="588.5" y2="589.9"/>
<line x1="226.5" x2="226.5" y1="588.5" y2="589.9"/>
<line x1="233.5" x2="233.5" y1="588.5" y2="591.1"/>
<line x1="239.5" x2="239.5" y1="588.5" y2="589.9"/>
<line x1="246.5" x2="246.5" y1="588.5" y2="589.9"/>
<line x1="252.5" x2="252.5" y1="588.5" y2="589.9"/>
<line x1="259.5" x2="259.5" y1="588.5" y2="589.9"/>
<line x1="265.5" x2="265.5" y1="588.5" y2="591.1"/>
<line x1="272.5" x2="272.5" y1="588.5" y2="589.9"/>
<line x1="279.5" x2="279.5" y1="588.5" y2="589.9"/>
<line x1="285.5" x2="285.5" y1="588.5" y2="589.9"/>
<line x1="292.5" x2="292.5" y1="588.5" y2="589.9"/>
<line x1="298.5" x2="298.5" y1="588.5" y2="591.1"/>
<line x1="305.5" x2="305.5" y1="588.5" y2="589.9"/>
<line x1="311.5" x2="311.5" y1="588.5" y2="589.9"/>
<line x1="318.5" x2="318.5" y1="588.5" y2="589.9"/>
<line x1="324.5" x2="324.5" y1="588.5" y2="589.9"/>
<line x1="331.5" x2="331.5" y1="588.5" y2="591.1"/>
<line x1="337.5" x2="337.5" y1="588.5" y2="589.9"/>
<line x1="344.5" x2="344.5" y1="588.5" y2="589.9"/>
<line x1="350.5" x2="350.5" y1="588.5" y2="589.9"/>
<line x1="357.5" x2="357.5" y1="588.5" y2="591.1"/>
<line x1="363.5" x2="363.5" y1="588.5" y2="589.9"/>
<line x1="370.5" x2="370.5" y1="588.5" y2="589.9"/>
<line x1="377.5" x2="377.5" y1="588.5" y2="589.9"/>
<line x1="383.5" x2="383.5" y1="588.5" y2="589.9"/>
<line x1="390.5" x2="390.5" y1="588.5" y2="591.1"/>
<line x1="396.5" x2="396.5" y1="588.5" y2="589.9"/>
<line x1="403.5" x2="403.5" y1="588.5" y2="589.9"/>
<line x1="409.5" x2="409.5" y1="588.5" y2="589.9"/>
<line x1="416.5" x2="416.5" y1="588.5" y2="589.9"/>
<line x1="422.5" x2="422.5" y1="588.5" y2="591.1"/>
<line x1="429.5" x2="429.5" y1="588.5" y2="589.9"/>
<line x1="435.5" x2="435.5" y1="588.5" y2="589.9"/>
<line x1="442.5" x2="442.5" y1="588.5" y2="589.9"/>
<line x1="448.5" x2="448.5" y1="588.5" y2="589.9"/>
<line x1="455.5" x2="455.5" y1="588.5" y2="589.9"/>
<line x1="461.5" x2="461.5" y1="588.5" y2="589.9"/>
<line x1="468.5" x2="468.5" y1="588.5" y2="591.1"/>
<line x1="475.5" x2="475.5" y1="588.5" y2="589.9"/>
<line x1="481.5" x2="481.5" y1="588.5" y2="589.9"/>
<line x1="488.5" x2="488.5" y1="588.5" y2="591.1"/>
<line x1="494.5" x2="494.5" y1="588.5" y2="589.9"/>
<line x1="501.5" x2="501.5" y1="588.5" y2="589.9"/>
<line x1="507.5" x2="507.5" y1="588.5" y2="589.9"/>
<line x1="514.5" x2="514.5" y1="588.5" y2="589.9"/>
<line x1="520.5" x2="520.5" y1="588.5" y2="591.1"/>
<line x1="527.5" x2="527.5" y1="588.5" y2="589.9"/>
<line x1="533.5" x2="533.5" y1="588.5" y2="589.9"/>
<line x1="540.5" x2="540.5" y1="588.5" y2="589.9"/>
<line x1="546.5" x2="546.5" y1="588.5" y2="589.9"/>
<line x1="553.5" x2="553.5" y1="588.5" y2="591.1"/>
<line x1="559.5" x2="559.5" y1="588.5" y2="589.9"/>
<line x1="566.5" x2="566.5" y1="588.5" y2="589.9"/>
<line x1="573.5" x2="573.5" y1="588.5" y2="589.9"/>
<line x1="579.5" x2="579.5" y1="588.5" y2="589.9"/>
<line x1="586.5" x2="586.5" y1="588.5" y2="591.1"/>
<line x1="592.5" x2="592.5" y1="588.5" y2="589.9"/>
<line x1="599.5" x2="599.5" y1="588.5" y2="589.9"/>
<line x1="605.5" x2="605.5" y1="588.5" y2="589.9"/>
<line x1="612.5" x2="612.5" y1="588.5" y2="589.9"/>
<line x1="618.5" x2="618.5" y1="588.5" y2="591.1"/>
<line x1="625.5" x2="625.5" y1="588.5" y2="589.9"/>
<line x1="631.5" x2="631.5" y1="588.5" y2="589.9"/>
<line x1="638.5" x2="638.5" y1="588.5" y2="589.9"/>
<line x1="644.5" x2="644.5" y1="588.5" y2="589.9"/>
<line x1="651.5" x2="651.5" y1="588.5" y2="591.1"/>
<line x1="657.5" x2="657.5" y1="588.5" y2="589.9"/>
<line x1="664.5" x2="664.5" y1="588.5" y2="589.9"/>
<line x1="671.5" x2="671.5" y1="588.5" y2="589.9"/>
<line x1="677.5" x2="677.5" y1="588.5" y2="589.9"/>
<line x1="684.5" x2="684.5" y1="588.5" y2="591.1"/>
<line x1="690.5" x2="690.5" y1="588.5" y2="589.9"/>
<line x1="697.5" x2="697.5" y1="588.5" y2="589.9"/>
<line x1="703.5" x2="703.5" y1="588.5" y2="589.9"/>
<line x1="710.5" x2="710.5" y1="588.5" y2="589.9"/>
<line x1="716.5" x2="716.5" y1="588.5" y2="591.1"/>
<line x1="723.5" x2="723.5" y1="588.5" y2="589.9"/>
<line x1="729.5" x2="729.5" y1="588.5" y2="589.9"/>
<line x1="736.5" x2="736.5" y1="588.5" y2="589.9"/>
<line x1="742.5" x2="742.5" y1="588.5" y2="591.1"/>
<line x1="749.5" x2="749.5" y1="588.5" y2="589.9"/>
<line x1="755.5" x2="755.5" y1="588.5" y2="589.9"/>
<line x1="762.5" x2="762.5" y1="588.5" y2="589.9"/>
<line x1="768.5" x2="768.5" y1="588.5" y2="589.9"/>
<line x1="775.5" x2="775.5" y1="588.5" y2="591.1"/>
<line x1="782.5" x2="782.5" y1="588.5" y2="589.9"/>
<line x1="788.5" x2="788.5" y1="588.5" y2="589.9"/>
<line x1="795.5" x2="795.5" y1="588.5" y2="589.9"/>
<line x1="801.5" x2="801.5" y1="588.5" y2="589.9"/>
<line x1="808.5" x2="808.5" y1="588.5" y2="591.1"/>
<line x1="814.5" x2="814.5" y1="588.5" y2="589.9"/>
<line x1="821.5" x2="821.5" y1="588.5" y2="589.9"/>
<line x1="827.5" x2="827.5" y1="588.5" y2="589.9"/>
<line x1="834.5" x2="834.5" y1="588.5" y2="589.9"/>
<line x1="840.5" x2="840.5" y1="588.5" y2="591.1"/>
<line x1="847.5" x2="847.5" y1="588.5" y2="589.9"/>
</g>
<text x="51.1" y="598.7" text-anchor="middle" class="mo" >Jul</text>
<text x="194.8" y="598.7" text-anchor="middle" class="mo" >Aug</text>
<text x="332.0" y="598.7" text-anchor="middle" class="mo" >Sep</text>
<text x="469.2" y="598.7" text-anchor="middle" class="mo" >Oct</text>
<text x="619.4" y="598.7" text-anchor="middle" class="mo" >Nov</text>
<text x="743.6" y="598.7" text-anchor="middle" class="mo" >Dec</text>
<text x="69.5" y="598.7" text-anchor="middle" class="ax" >7</text>
<text x="102.1" y="598.7" text-anchor="middle" class="ax" >14</text>
<text x="134.8" y="598.7" text-anchor="middle" class="ax" >21</text>
<text x="167.5" y="598.7" text-anchor="middle" class="ax" >28</text>
<text x="232.8" y="598.7" text-anchor="middle" class="ax" >11</text>
<text x="265.5" y="598.7" text-anchor="middle" class="ax" >18</text>
<text x="298.1" y="598.7" text-anchor="middle" class="ax" >25</text>
<text x="356.9" y="598.7" text-anchor="middle" class="ax" >8</text>
<text x="389.6" y="598.7" text-anchor="middle" class="ax" >15</text>
<text x="422.2" y="598.7" text-anchor="middle" class="ax" >22</text>
<text x="487.6" y="598.7" text-anchor="middle" class="ax" >6</text>
<text x="520.2" y="598.7" text-anchor="middle" class="ax" >13</text>
<text x="552.9" y="598.7" text-anchor="middle" class="ax" >20</text>
<text x="585.6" y="598.7" text-anchor="middle" class="ax" >27</text>
<text x="650.9" y="598.7" text-anchor="middle" class="ax" >10</text>
<text x="683.6" y="598.7" text-anchor="middle" class="ax" >17</text>
<text x="716.2" y="598.7" text-anchor="middle" class="ax" >24</text>
<text x="775.0" y="598.7" text-anchor="middle" class="ax" >8</text>
<text x="807.7" y="598.7" text-anchor="middle" class="ax" >15</text>
<text x="840.4" y="598.7" text-anchor="middle" class="ax" >22</text>
<line x1="50.4" x2="50.4" y1="601.3" y2="603" stroke="#c8c8c8" stroke-width="1"/>
<line x1="194.1" x2="194.1" y1="601.3" y2="603" stroke="#c8c8c8" stroke-width="1"/>
<line x1="331.3" x2="331.3" y1="601.3" y2="603" stroke="#c8c8c8" stroke-width="1"/>
<line x1="468.5" x2="468.5" y1="601.3" y2="603" stroke="#c8c8c8" stroke-width="1"/>
<line x1="618.7" x2="618.7" y1="601.3" y2="603" stroke="#c8c8c8" stroke-width="1"/>
<line x1="742.9" x2="742.9" y1="601.3" y2="603" stroke="#c8c8c8" stroke-width="1"/>
<circle cx="898.4" cy="604.3" r="7.2" fill="#000"/>
</svg></body></html>
